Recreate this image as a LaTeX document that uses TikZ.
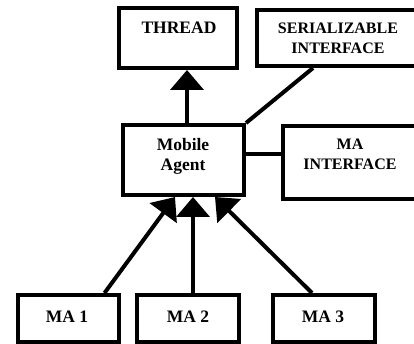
\documentclass[tikz,border=0pt]{standalone}
\usepackage{fontspec}
\setmainfont{Liberation Serif}
\usetikzlibrary{arrows.meta}
\begin{document}
\begin{tikzpicture}[x=1pt,y=-1pt,
  box/.style={draw=black,line width=4pt,fill=white,inner sep=0pt,rectangle},
  lbl/.style={font=\fontsize{17.5}{20}\selectfont\bfseries,align=center,inner sep=0pt},
  lbls/.style={font=\fontsize{16}{20}\selectfont\bfseries,align=center,inner sep=0pt},
  conn/.style={line width=4pt,draw=black},
  arr/.style={conn,-{Triangle[length=20pt,width=33pt]}}]
\useasboundingbox (0,0) rectangle (414,344);
% boxes
\node[box,minimum width=118pt,minimum height=60pt] (thread) at (178,38) {};
\node[box,minimum width=173pt,minimum height=56pt] (ser) at (343.5,38) {};
\node[box,minimum width=121pt,minimum height=70pt] (mob) at (183.5,160) {};
\node[box,minimum width=157pt,minimum height=73pt] (maif) at (361.5,162.5) {};
\node[box,minimum width=101pt,minimum height=47pt] (ma1) at (68.5,318.5) {};
\node[box,minimum width=102pt,minimum height=47pt] (ma2) at (188,318.5) {};
\node[box,minimum width=102pt,minimum height=47pt] (ma3) at (324,318.5) {};
% labels
\node[lbl] (threadtxt) at (179,28) {THREAD};
\node[lbls] (sertxt) at (338,38) {SERIALIZABLE\\INTERFACE};
\node[lbl] (mobtxt) at (183,156) {Mobile\\Agent};
\node[lbls] (maiftxt) at (350,154) {MA\\INTERFACE};
\node[lbl] (ma1txt) at (67,317) {MA 1};
\node[lbl] (ma2txt) at (188,317) {MA 2};
\node[lbl] (ma3txt) at (323,317) {MA 3};
% connectors
\draw[arr] ([xshift=3.5pt]mob.north) -- ([xshift=9pt]thread.south);
\draw[conn] (mob.north east) -- ([xshift=-30.5pt]ser.south);
\draw[conn] ([yshift=6pt]mob.east) -- ([yshift=6pt]mob.east -| maif.west);
\draw[arr] ([xshift=36pt]ma1.north) -- ([xshift=-8.5pt]mob.south);
\draw[arr] ([xshift=5pt]ma2.north) -- ([xshift=9.5pt]mob.south);
\draw[arr] ([xshift=-12pt]ma3.north) -- ([xshift=31.5pt]mob.south);
\end{tikzpicture}
\end{document}
